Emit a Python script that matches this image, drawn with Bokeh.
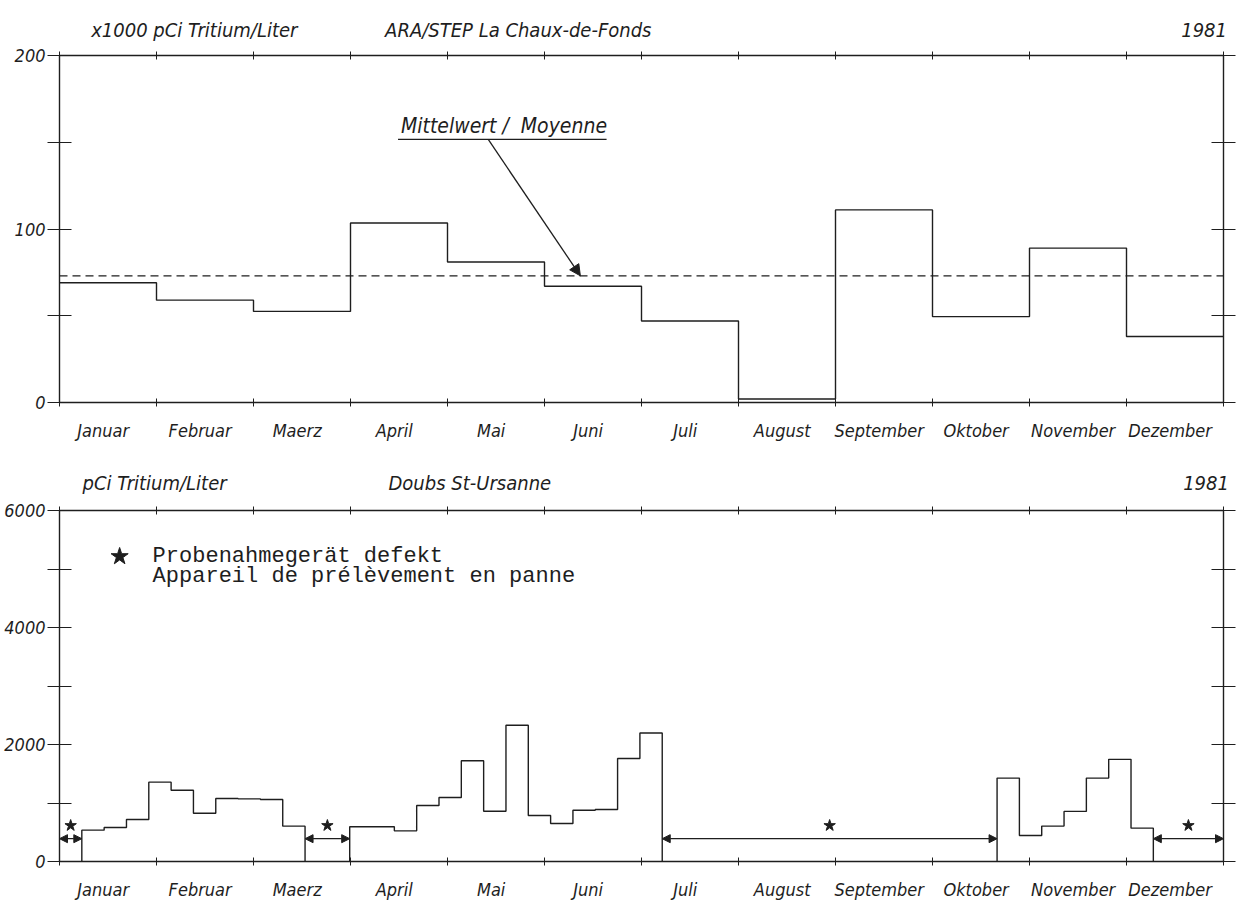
from bokeh.plotting import figure
from bokeh.models import Range1d, FixedTicker, LinearAxis, Label, Arrow, NormalHead, Span, ColumnDataSource
from bokeh.layouts import column
from bokeh.embed import file_html
from bokeh.resources import INLINE

# ---------------- data ----------------
months = ["Januar", "Februar", "Maerz", "April", "Mai", "Juni",
          "Juli", "August", "September", "Oktober", "November", "Dezember"]

# ARA/STEP La Chaux-de-Fonds, monthly values (x1000 pCi Tritium/Liter)
top_values = [69, 59, 52.5, 103.5, 81, 67, 47, 2, 111, 49.5, 89, 38]
top_mean = 73
top_major = [0, 100, 200]
top_minor = [50, 150]
top_right = [0, 50, 100, 150, 200]
top_titles = ["x1000 pCi Tritium/Liter", "ARA/STEP La Chaux-de-Fonds", "1981"]
top_title_x = [1.39, 4.73, 11.80]

# Doubs St-Ursanne, weekly values (pCi Tritium/Liter); None = sampler out of order
bottom_values = ([None, 536, 581, 718, 1356, 1219, 826, 1077, 1071, 1060, 604, None, None,
                  593, 593, 524, 957, 1094, 1721, 860, 2330, 786, 650, 877, 889, 1760, 2196]
                 + [None] * 15
                 + [1426, 445, 605, 856, 1426, 1746, 570]
                 + [None] * 4)
bottom_major = [0, 2000, 4000, 6000]
bottom_minor = [1000, 3000, 5000]
bottom_right = [0, 1000, 2000, 3000, 4000, 5000, 6000]
bottom_titles = ["pCi Tritium/Liter", "Doubs St-Ursanne", "1981"]
bottom_title_x = [0.98, 4.23, 11.82]

legend_lines = ["Probenahmegerät defekt", "Appareil de prélèvement en panne"]

INK = "#1e1e1e"
FONT = "DejaVu Sans Condensed, Liberation Sans"
MONO = "Liberation Mono"
DAYS_PER_MONTH = 365 / 12


def week_x(k):
    return min(k * 7 / DAYS_PER_MONTH, 12)


def make_fig(ymax, fw, fh, left, right, top, bottom, ymajor, yminor, yright,
             titles, title_x, title_standoff):
    p = figure(frame_width=fw, frame_height=fh, x_range=Range1d(0, 12), y_range=Range1d(0, ymax),
               toolbar_location=None, output_backend="svg",
               min_border_left=left, min_border_right=right,
               min_border_top=top, min_border_bottom=bottom)
    p.outline_line_color = None
    p.grid.visible = False
    p.background_fill_color = "white"
    p.border_fill_color = "white"

    # bottom axis: month names, small ticks at month boundaries
    xa = p.xaxis[0]
    label_pos = [i + 0.45 for i in range(12)]
    xa.ticker = FixedTicker(ticks=label_pos, minor_ticks=list(range(13)))
    xa.major_label_overrides = {t: m for t, m in zip(label_pos, months)}
    xa.major_tick_in = 0
    xa.major_tick_out = 0
    xa.minor_tick_in = 4
    xa.minor_tick_out = 4
    xa.minor_tick_line_color = INK
    xa.axis_line_color = INK
    xa.axis_line_width = 1.4
    xa.major_label_standoff = 13
    xa.major_label_text_font = FONT
    xa.major_label_text_font_style = "italic"
    xa.major_label_text_font_size = "18px"
    xa.major_label_text_color = INK

    # top axis: headings as labels, small ticks at month boundaries
    ta = LinearAxis(ticker=FixedTicker(ticks=title_x, minor_ticks=list(range(13))),
                    major_label_overrides={t: s for t, s in zip(title_x, titles)},
                    major_tick_in=0, major_tick_out=0,
                    minor_tick_in=4, minor_tick_out=4, minor_tick_line_color=INK,
                    axis_line_color=INK, axis_line_width=1.4,
                    major_label_standoff=title_standoff,
                    major_label_text_font=FONT, major_label_text_font_style="italic",
                    major_label_text_font_size="20px", major_label_text_color=INK)
    p.add_layout(ta, "above")

    # left axis
    ya = p.yaxis[0]
    ya.ticker = FixedTicker(ticks=ymajor, minor_ticks=yminor)
    ya.major_label_standoff = 2
    ya.major_tick_in = 12
    ya.major_tick_out = 12
    ya.minor_tick_in = 12
    ya.minor_tick_out = 12
    ya.major_tick_line_color = INK
    ya.minor_tick_line_color = INK
    ya.axis_line_color = INK
    ya.axis_line_width = 1.4
    ya.major_label_text_font = FONT
    ya.major_label_text_font_style = "italic"
    ya.major_label_text_font_size = "18px"
    ya.major_label_text_color = INK

    # right axis (ticks only)
    ra = LinearAxis(ticker=FixedTicker(ticks=yright),
                    major_label_overrides={t: "" for t in yright},
                    major_tick_in=12, major_tick_out=12, major_tick_line_color=INK,
                    axis_line_color=INK, axis_line_width=1.4, major_label_standoff=0,
                    minor_tick_line_color=None)
    p.add_layout(ra, "right")
    return p


# ---------------- top panel ----------------
p1 = make_fig(200, 1164, 347, 59, 15, 55, 58, top_major, top_minor, top_right,
              top_titles, top_title_x, 10)
edges = list(range(13))
p1.step(x=edges, y=top_values + [top_values[-1]], mode="after", line_color=INK, line_width=1.4)
p1.add_layout(Span(location=top_mean, dimension="width", line_color=INK, line_width=1.3,
                   line_dash="8 5"))

p1.add_layout(Label(x=3.52, y=152.5, text="Mittelwert /\u00a0\u00a0Moyenne", text_baseline="bottom",
                    text_font=FONT, text_font_style="italic", text_font_size="21px", text_color=INK))
p1.segment(x0=[3.49], y0=[151.6], x1=[5.64], y1=[151.6], line_color=INK, line_width=1.3)
p1.add_layout(Arrow(end=NormalHead(size=11, fill_color=INK, line_color=INK), start=None,
                    x_start=4.42, y_start=151.6, x_end=5.37, y_end=top_mean,
                    line_color=INK, line_width=1.3))

# ---------------- bottom panel ----------------
p2 = make_fig(6000, 1164, 351, 59, 15, 50, 40, bottom_major, bottom_minor, bottom_right,
              bottom_titles, bottom_title_x, 12)

xs, ys, gaps = [], [], []
cur_x = cur_y = None
for k, v in enumerate(bottom_values):
    x0, x1 = week_x(k), week_x(k + 1)
    if v is None:
        if cur_x is not None:
            cur_x.append(x0)
            cur_y.append(0)
            xs.append(cur_x)
            ys.append(cur_y)
            cur_x = cur_y = None
        if gaps and abs(gaps[-1][1] - x0) < 1e-9:
            gaps[-1][1] = x1
        else:
            gaps.append([x0, x1])
    else:
        if cur_x is None:
            cur_x, cur_y = [x0], [0]
        cur_x += [x0, x1]
        cur_y += [v, v]
if cur_x is not None:
    cur_x.append(cur_x[-1])
    cur_y.append(0)
    xs.append(cur_x)
    ys.append(cur_y)

p2.multi_line(xs=xs, ys=ys, line_color=INK, line_width=1.4)

gap_src = ColumnDataSource(dict(x0=[g[0] for g in gaps], x1=[g[1] for g in gaps],
                                y=[390] * len(gaps), xm=[(g[0] + g[1]) / 2 for g in gaps],
                                ys=[615] * len(gaps)))
p2.add_layout(Arrow(start=NormalHead(size=8, fill_color=INK, line_color=INK),
                    end=NormalHead(size=8, fill_color=INK, line_color=INK),
                    x_start="x0", y_start="y", x_end="x1", y_end="y", source=gap_src,
                    line_color=INK, line_width=1.2))
p2.scatter(x="xm", y="ys", source=gap_src, marker="star", size=12, fill_color=INK, line_color=INK)

p2.scatter(x=[0.62], y=[5214], marker="star", size=18, fill_color=INK, line_color=INK)
p2.add_layout(Label(x=0.96, y=5214, text=legend_lines[0], text_baseline="middle",
                    text_font=MONO, text_font_size="22px", text_color=INK))
p2.add_layout(Label(x=0.96, y=4870, text=legend_lines[1], text_baseline="middle",
                    text_font=MONO, text_font_size="22px", text_color=INK))

layout = column(p1, p2, spacing=0)
open("out.html", "w").write(file_html(layout, INLINE))
